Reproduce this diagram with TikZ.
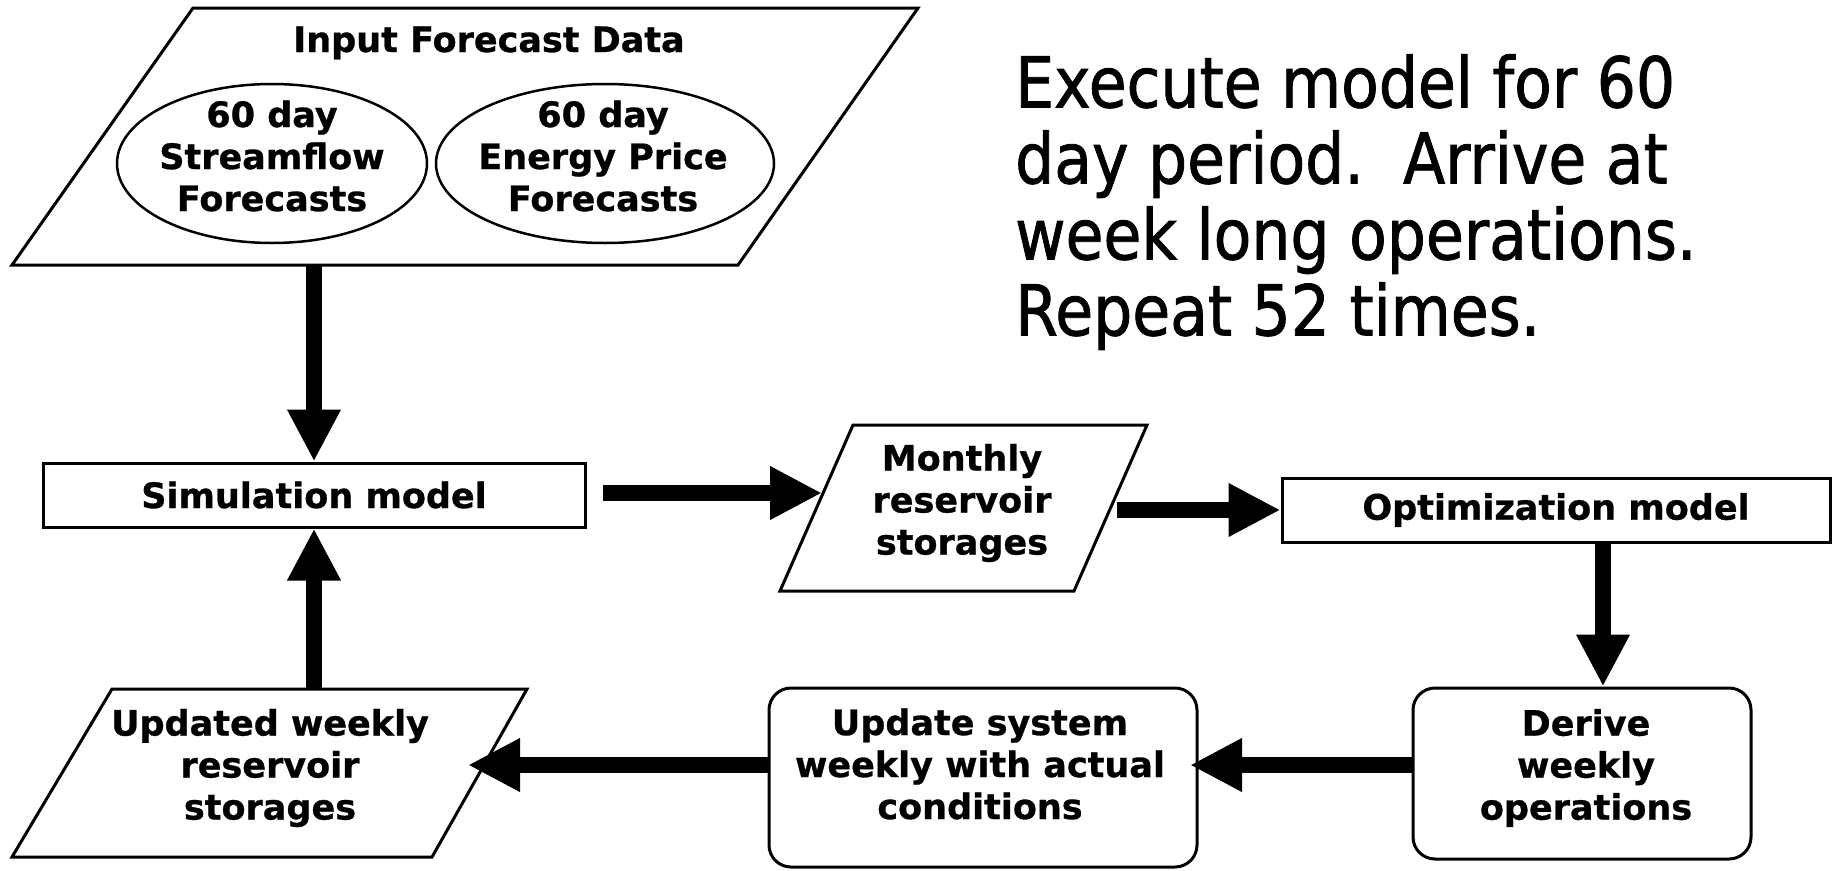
\documentclass[tikz,border=0pt]{standalone}
\usepackage{fontspec}
\setmainfont{DejaVu Sans}
\newfontfamily\bigfont[FakeStretch=0.88,FakeBold=1.2]{DejaVu Sans}
\newfontfamily\heavyfont[FakeBold=0.8]{DejaVu Sans Bold}
\usetikzlibrary{arrows.meta,shapes.geometric,calc}
\begin{document}
\begin{tikzpicture}[x=1pt,y=-1pt,
  outline/.style={draw=black,line width=3pt,line join=miter},
  thinline/.style={draw=black,line width=2.5pt},
  fat/.style={line width=16pt,-{Triangle[length=52pt,width=50pt]}},
  lbl/.style={font=\heavyfont\fontsize{35}{42}\selectfont,align=center,inner sep=0pt},
  boxn/.style={outline,rectangle,inner sep=0pt,font=\heavyfont\fontsize{35}{42}\selectfont,align=center},
  rbox/.style={outline,rectangle,rounded corners=22pt,inner sep=0pt}]
\fill[white] (0,0) rectangle (1835,870);
\path[use as bounding box] (0,0) rectangle (1835,870);

% Input forecast data (parallelogram)
\coordinate (inTL) at (193,8);
\coordinate (inTR) at (918,8);
\coordinate (inBR) at (738,265);
\coordinate (inBL) at (12,265);
\draw[outline] (inTL) -- (inTR) -- (inBR) -- (inBL) -- cycle;
\node[lbl,anchor=base] (intitle) at (489,52) {Input Forecast Data};
\node[thinline,ellipse,minimum width=310pt,minimum height=159pt,inner sep=0pt] (e1) at (272,163.5) {};
\node[lbl] (e1t) at (272,156) {60 day\\Streamflow\\Forecasts};
\node[thinline,ellipse,minimum width=338pt,minimum height=159pt,inner sep=0pt] (e2) at (605,163.5) {};
\node[lbl] (e2t) at (603,156) {60 day\\Energy Price\\Forecasts};
\coordinate (inB) at (314,265);

% Big text
\node[anchor=north west,inner sep=0pt,align=left,font=\bigfont\fontsize{70}{76}\selectfont] (note) at (1015,54)
  {Execute model for 60\\day period.\ \ Arrive at\\week long operations.\\Repeat 52 times.};

% Simulation model
\node[boxn,minimum width=542pt,minimum height=64pt] (sim) at (314,495) {Simulation model};

% Monthly reservoir storages (parallelogram)
\coordinate (monTL) at (853,425);
\coordinate (monTR) at (1147,425);
\coordinate (monBR) at (1074,591);
\coordinate (monBL) at (780,591);
\draw[outline] (monTL) -- (monTR) -- (monBR) -- (monBL) -- cycle;
\node[lbl] (mont) at (962,503) {Monthly\\reservoir\\storages};

% Optimization model
\node[boxn,minimum width=548pt,minimum height=64pt] (opt) at (1556,510) {Optimization model};

% Derive weekly operations
\node[rbox,minimum width=338pt,minimum height=171pt] (der) at (1582,773.5) {};
\node[lbl] (dert) at (1586,768) {Derive\\weekly\\operations};

% Update system
\node[rbox,minimum width=428pt,minimum height=179pt] (upd) at (983,777.5) {};
\node[lbl] (updt) at (980,764) {Update system\\weekly with actual\\conditions};

% Updated weekly reservoir storages (parallelogram)
\coordinate (uwTL) at (112,689);
\coordinate (uwTR) at (527,689);
\coordinate (uwBR) at (432,857);
\coordinate (uwBL) at (12,857);
\draw[outline] (uwTL) -- (uwTR) -- (uwBR) -- (uwBL) -- cycle;
\node[lbl] (uwt) at (270,768) {Updated weekly\\reservoir\\storages};

% connector end points
\coordinate (a2s) at (603,493);
\coordinate (monL) at (822,493);
\coordinate (monR) at (1117,510);
\coordinate (a4s) at (1603,542);
\coordinate (a5s) at (1413,765);
\coordinate (a5e) at (1190,765);
\coordinate (a6s) at (769,765);
\coordinate (a6e) at (468,765);
\coordinate (uwT) at (314,689);

% connectors
\draw[fat] (inB) -- (sim.north);
\draw[fat] (a2s) -- (monL);
\draw[fat] (monR) -- (opt.west);
\draw[fat] (a4s) -- (a4s |- der.north);
\draw[fat] (a5s) -- (a5e);
\draw[fat] (a6s) -- (a6e);
\draw[fat] (uwT) -- (sim.south);
\end{tikzpicture}
\end{document}
